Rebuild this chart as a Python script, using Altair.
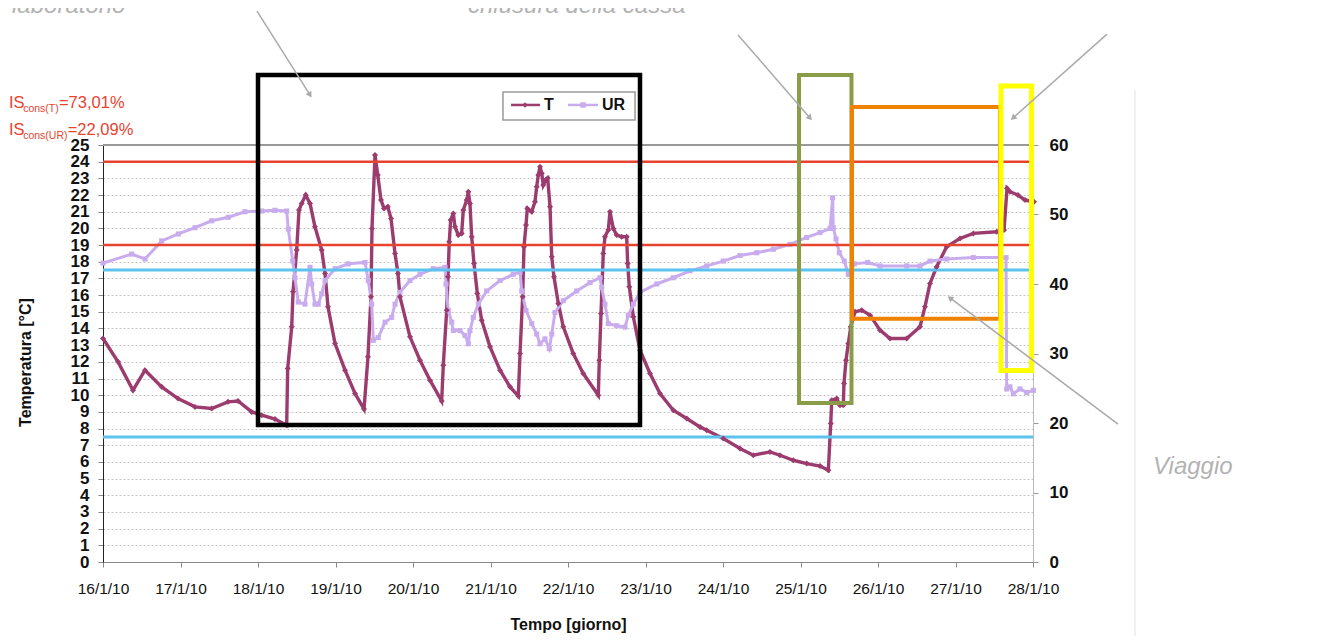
import math
import altair as alt
import pandas as pd

# ---------------- data (day offset from 16/1/10) ----------------
t_day = [0.000, 0.194, 0.387, 0.542, 0.757, 0.968, 1.187, 1.403, 1.613, 1.742,
         1.919, 2.048, 2.219, 2.370, 2.383, 2.435, 2.452, 2.499, 2.529, 2.564,
         2.615, 2.671, 2.735, 2.822, 2.865, 2.903, 2.994, 3.123, 3.252, 3.368,
         3.419, 3.458, 3.471, 3.510, 3.545, 3.587, 3.626, 3.674, 3.716, 3.768,
         3.806, 3.832, 3.961, 4.090, 4.219, 4.370, 4.391, 4.435, 4.452, 4.468,
         4.486, 4.520, 4.542, 4.585, 4.628, 4.649, 4.693, 4.714, 4.735, 4.757,
         4.787, 4.830, 4.886, 4.994, 5.123, 5.252, 5.359, 5.381, 5.415, 5.432,
         5.458, 5.475, 5.532, 5.574, 5.596, 5.617, 5.639, 5.661, 5.681, 5.712,
         5.738, 5.768, 5.790, 5.819, 5.875, 5.939, 6.068, 6.197, 6.391, 6.404,
         6.426, 6.455, 6.477, 6.520, 6.542, 6.584, 6.628, 6.693, 6.757, 6.770,
         6.791, 6.843, 6.929, 7.058, 7.187, 7.359, 7.532, 7.703, 7.790, 8.004,
         8.219, 8.391, 8.606, 8.735, 8.907, 9.080, 9.252, 9.359, 9.390, 9.403,
         9.467, 9.510, 9.552, 9.561, 9.587, 9.617, 9.648, 9.703, 9.790, 9.897,
         10.026, 10.155, 10.370, 10.542, 10.606, 10.671, 10.757, 10.886, 11.058, 11.230,
         11.532, 11.626, 11.665, 11.703, 11.806, 11.897, 12.013]
t_val = [13.4, 12.0, 10.3, 11.5, 10.5, 9.8, 9.3, 9.2, 9.6, 9.65,
         9.0, 8.8, 8.57, 8.2, 11.6, 14.1, 16.2, 18.7, 21.1, 21.5,
         22.0, 21.5, 20.1, 18.7, 17.3, 15.3, 13.1, 11.5, 10.1, 9.17,
         12.3, 15.9, 20.0, 24.4, 23.2, 21.7, 21.2, 21.3, 20.6, 18.5,
         17.3, 15.9, 13.5, 12.1, 10.9, 9.65, 11.8, 15.1, 17.1, 19.2,
         20.5, 20.9, 20.1, 19.6, 19.7, 21.1, 21.7, 22.2, 21.5, 19.5,
         17.9, 16.1, 14.5, 12.9, 11.5, 10.5, 9.95, 12.5, 15.9, 18.9,
         20.2, 21.2, 21.0, 21.6, 22.5, 23.2, 23.7, 23.3, 22.6, 22.9,
         23.0, 21.3, 18.3, 17.1, 15.5, 14.1, 12.5, 11.3, 10.0, 12.1,
         14.9, 18.5, 19.5, 19.9, 21.0, 20.0, 19.6, 19.5, 19.5, 17.9,
         16.5, 14.7, 12.7, 11.3, 10.1, 9.1, 8.6, 8.1, 7.9, 7.4,
         6.8, 6.4, 6.6, 6.4, 6.1, 5.9, 5.75, 5.5, 8.3, 9.7,
         9.8, 9.4, 9.4, 10.7, 12.1, 13.1, 14.1, 15.0, 15.1, 14.8,
         13.9, 13.4, 13.4, 14.1, 15.3, 16.7, 17.7, 18.9, 19.4, 19.7,
         19.8, 19.9, 22.4, 22.2, 22.0, 21.7, 21.6]

ur_day = [0.000, 0.370, 0.542, 0.757, 0.972, 1.187, 1.403, 1.617, 1.832, 2.048,
          2.219, 2.370, 2.391, 2.448, 2.477, 2.520, 2.606, 2.671, 2.693, 2.735,
          2.778, 2.822, 2.865, 2.994, 3.165, 3.381, 3.423, 3.467, 3.488, 3.552,
          3.639, 3.725, 3.768, 3.832, 3.961, 4.090, 4.262, 4.413, 4.426, 4.455,
          4.499, 4.520, 4.606, 4.671, 4.714, 4.735, 4.778, 4.843, 4.951, 5.123,
          5.294, 5.381, 5.403, 5.458, 5.532, 5.596, 5.639, 5.703, 5.759, 5.790,
          5.832, 5.939, 6.112, 6.284, 6.413, 6.435, 6.477, 6.520, 6.628, 6.735,
          6.778, 6.843, 6.929, 7.145, 7.359, 7.574, 7.790, 8.004, 8.219, 8.435,
          8.650, 8.865, 9.080, 9.252, 9.381, 9.415, 9.423, 9.458, 9.501, 9.565,
          9.617, 9.694, 9.867, 10.026, 10.370, 10.542, 10.671, 10.886, 11.230, 11.652,
          11.661, 11.703, 11.746, 11.832, 11.919, 12.005]
ur_val = [43.0, 44.3, 43.6, 46.2, 47.2, 48.1, 49.1, 49.6, 50.4, 50.5,
          50.6, 50.5, 47.9, 43.3, 40.9, 37.4, 37.1, 42.4, 40.0, 37.1,
          37.1, 38.6, 40.5, 42.2, 42.9, 43.1, 40.5, 37.1, 31.9, 32.3,
          34.5, 35.2, 37.1, 38.8, 40.5, 41.4, 42.2, 42.4, 40.0, 36.2,
          34.5, 33.3, 33.3, 32.6, 31.4, 33.3, 35.2, 37.1, 39.0, 40.5,
          41.4, 41.7, 39.0, 36.2, 34.3, 32.8, 31.4, 32.1, 30.7, 32.8,
          35.9, 37.6, 39.0, 40.2, 40.9, 39.5, 37.1, 34.3, 34.0, 33.8,
          35.5, 37.1, 38.8, 40.0, 40.9, 41.9, 42.6, 43.3, 44.1, 44.5,
          45.0, 45.7, 46.7, 47.4, 48.0, 52.4, 48.1, 46.5, 44.5, 43.3,
          41.4, 42.9, 43.1, 42.6, 42.6, 42.6, 43.3, 43.6, 43.8, 43.8,
          24.9, 25.2, 24.2, 24.9, 24.4, 24.7]

START = "2010-01-16"
days = list(range(13))            # tick days (16/1/10 ... 28/1/10)
t_ticks = list(range(26))
ur_ticks = [0, 10, 20, 30, 40, 50, 60]
t_limits = [19, 24]       # red lines (°C)
ur_limits = [18, 42]      # blue lines (UR %)
series_names = ["T", "UR"]
is_texts = [("cons(T)", "=73,01%"), ("cons(UR)", "=22,09%")]
notes = ["laboratorio", "chiusura della cassa", "Viaggio"]

# ---------------- style ----------------
T_COLOR = "#9c3c6e"
UR_COLOR = "#c9acee"
RED = "#e8432f"
BLUE = "#5cc3ee"
GREY = "#aaaaaa"
FONT = "Liberation Sans, Arial, sans-serif"
PX_DAY = 930 / 12
PX_DEG = 417 / 25

t0 = pd.Timestamp(START)


def to_time(d):
    return [t0 + pd.to_timedelta(v, unit="D") for v in d]


def dt(d):
    ts = t0 + pd.to_timedelta(d, unit="D")
    return alt.DateTime(year=ts.year, month=ts.month, date=ts.day)


XS = alt.Scale(domain=[dt(days[0]), dt(days[-1])], nice=False)
TS = alt.Scale(domain=[t_ticks[0], t_ticks[-1]], nice=False, zero=True)
US = alt.Scale(domain=[ur_ticks[0], ur_ticks[-1]], nice=False, zero=True)

x_axis = alt.Axis(values=[dt(d) for d in days], format="%-d/%-m/%y", grid=False,
                  domainColor="#888", tickColor="#888", tickSize=5, labelFontSize=15.5,
                  labelFont="Liberation Sans Narrow, Liberation Sans, Arial",
                  labelColor="#111", labelPadding=14, labelOverlap=False, labelFlush=False,
                  title="Tempo [giorno]", titleFontSize=16, titleFontWeight="bold",
                  titleFont=FONT, titleColor="#111", titlePadding=20)
t_axis = alt.Axis(values=t_ticks, orient="left", grid=True, gridDash=[2, 2],
                  gridColor="#c4c4c4", gridWidth=1, domainColor="#222", tickColor="#888",
                  tickSize=5, labelFontSize=17, labelFontWeight="bold", labelFont=FONT,
                  labelColor="#111", labelPadding=9, labelOverlap=False,
                  title="Temperatura [°C]", titleFontSize=16, titleFontWeight="bold",
                  titleFont=FONT, titleColor="#111", titleX=-78, titleY=217,
                  titleAngle=270, titleAlign="center", titleBaseline="middle")
ur_axis = alt.Axis(values=ur_ticks, orient="right", grid=False, domainColor="#bbb",
                   tickColor="#999", tickSize=5, labelFontSize=17, labelFontWeight="bold",
                   labelFont=FONT, labelColor="#111", labelPadding=11, title="")


def X(f):
    # every layer carries the same (shared) x axis definition
    return alt.X(f, type="temporal", scale=XS, axis=x_axis)


def Y(f):
    return alt.Y(f, type="quantitative", scale=TS, axis=None)


def U(f):
    return alt.Y(f, type="quantitative", scale=US, axis=None)


# ---------------- series ----------------
ur_df = pd.DataFrame({"d": to_time(ur_day), "v": ur_val})
t_df = pd.DataFrame({"d": to_time(t_day), "v": t_val})

ur_line = alt.Chart(ur_df).mark_line(color=UR_COLOR, strokeWidth=3).encode(
    x=X("d"), y=alt.Y("v:Q", scale=US, axis=ur_axis))
ur_pts = alt.Chart(ur_df).mark_point(shape="square", filled=True, size=26, color=UR_COLOR,
                                     opacity=1).encode(x=X("d"), y=U("v"))

edge = to_time([days[0], days[-1]])
blue_df = pd.DataFrame({"v": ur_limits, "x0": edge[0], "x1": edge[1]})
blue_rules = alt.Chart(blue_df).mark_rule(color=BLUE, strokeWidth=3).encode(
    x=X("x0"), x2="x1", y=U("v"))

t_line = alt.Chart(t_df).mark_line(color=T_COLOR, strokeWidth=3.4).encode(
    x=X("d"), y=alt.Y("v:Q", scale=TS, axis=t_axis))
t_pts = alt.Chart(t_df).mark_point(shape="diamond", filled=True, size=36, color=T_COLOR,
                                   opacity=1).encode(x=X("d"), y=Y("v"))

red_df = pd.DataFrame({"v": t_limits, "x0": edge[0], "x1": edge[1]})
red_rules = alt.Chart(red_df).mark_rule(color=RED, strokeWidth=2.5).encode(
    x=X("x0"), x2="x1", y=Y("v"))

top_df = pd.DataFrame({"v": [t_ticks[-1]], "x0": [edge[0]], "x1": [edge[1]]})
top_rule = alt.Chart(top_df).mark_rule(color="#999", strokeWidth=2).encode(
    x=X("x0"), x2="x1", y=Y("v"))

# ---------------- annotations (in data units: day offset, °C) ----------------
boxes = [
    (2.000, 6.929, 8.21, 29.20, "#000000", 4.5),
    (8.981, 9.658, 9.53, 29.20, "#8a9c47", 4),
    (9.665, 11.574, 14.59, 27.28, "#ef8200", 4),
    (11.587, 11.981, 11.48, 28.54, "#ffff00", 5),
]
box_layers = []
for x0, x1, y0, y1, col, w in boxes:
    bdf = pd.DataFrame({"x0": to_time([x0]), "x1": to_time([x1]), "y0": [y0], "y1": [y1]})
    box_layers.append(alt.Chart(bdf).mark_rect(fill="transparent", stroke=col, strokeWidth=w).encode(
        x=X("x0"), x2="x1", y=Y("y0"), y2="y1"))

arrows = [
    (1.987, 33.03, 2.671, 28.00),
    (8.194, 31.59, 9.123, 26.62),
    (12.955, 31.65, 11.742, 26.62),
    (13.097, 8.27, 10.929, 15.83),
]
arr_df = pd.DataFrame({
    "xa": to_time([a[0] for a in arrows]), "ya": [a[1] for a in arrows],
    "xb": to_time([a[2] for a in arrows]), "yb": [a[3] for a in arrows],
    "ang": [(math.degrees(math.atan2((xb - xa) * PX_DAY, (yb - ya) * PX_DEG)) + 360) % 360
            for xa, ya, xb, yb in arrows],
})
arrow_lines = alt.Chart(arr_df).mark_rule(color=GREY, strokeWidth=1.5).encode(
    x=X("xa"), y=Y("ya"), x2="xb", y2="yb")
arrow_heads = alt.Chart(arr_df).mark_point(shape="triangle-up", filled=True, size=45,
                                           color=GREY, opacity=1).encode(
    x=X("xb"), y=Y("yb"), angle=alt.Angle("ang:Q", scale=None))

note_df = pd.DataFrame({"t": notes, "x": to_time([-1.174, 4.71, 13.548]), "y": [32.90, 32.90, 5.28]})
note_text = alt.Chart(note_df).mark_text(align="left", baseline="alphabetic", font=FONT,
                                         fontSize=24, fontStyle="italic", color="#b3b3b3").encode(
    x=X("x"), y=Y("y"), text="t:N")

is_main = pd.DataFrame({"t": ["IS", is_texts[0][1], "IS", is_texts[1][1]],
                        "x": to_time([-1.213, -0.568, -1.213, -0.455]),
                        "y": [27.22, 27.22, 25.60, 25.60]})
is_sub = pd.DataFrame({"t": [is_texts[0][0], is_texts[1][0]],
                       "x": to_time([-1.030, -1.030]), "y": [26.98, 25.36]})
is_main_text = alt.Chart(is_main).mark_text(align="left", baseline="alphabetic", font=FONT,
                                            fontSize=16.5, color=RED).encode(
    x=X("x"), y=Y("y"), text="t:N")
is_sub_text = alt.Chart(is_sub).mark_text(align="left", baseline="alphabetic", font=FONT,
                                          fontSize=10.5, color=RED).encode(
    x=X("x"), y=Y("y"), text="t:N")

# legend
leg_box_df = pd.DataFrame({"x0": to_time([5.161]), "x1": to_time([6.865]), "y0": [26.50], "y1": [28.18]})
leg_box = alt.Chart(leg_box_df).mark_rect(fill="white", stroke="#999", strokeWidth=1.5).encode(
    x=X("x0"), x2="x1", y=Y("y0"), y2="y1")
leg_df = pd.DataFrame({"name": series_names, "xa": to_time([5.265, 6.000]),
                       "xb": to_time([5.639, 6.387]), "xm": to_time([5.445, 6.194]),
                       "xt": to_time([5.690, 6.439]), "y": [27.40, 27.40],
                       "col": [T_COLOR, UR_COLOR], "shape": ["diamond", "square"]})
leg_lines = alt.Chart(leg_df).mark_rule(strokeWidth=2.5).encode(
    x=X("xa"), x2="xb", y=Y("y"), color=alt.Color("col:N", scale=None))
leg_pts = alt.Chart(leg_df).mark_point(filled=True, size=30, opacity=1).encode(
    x=X("xm"), y=Y("y"), color=alt.Color("col:N", scale=None),
    shape=alt.Shape("shape:N", scale=None))
leg_text = alt.Chart(leg_df).mark_text(align="left", baseline="middle", font=FONT,
                                       fontSize=16, fontWeight="bold", color="#111").encode(
    x=X("xt"), y=Y("y"), text="name:N")

border_df = pd.DataFrame({"x": to_time([13.316]), "y0": [28.3], "y1": [-6.0]})
border = alt.Chart(border_df).mark_rule(color="#e2e2e2", strokeWidth=1).encode(
    x=X("x"), y=Y("y0"), y2="y1")

chart = alt.layer(
    t_line, ur_line, top_rule, ur_pts, blue_rules, t_pts, red_rules, border,
    *box_layers, arrow_lines, arrow_heads, note_text, is_main_text, is_sub_text,
    leg_box, leg_lines, leg_pts, leg_text,
).resolve_scale(y="independent").properties(
    width=930, height=417,
    autosize=alt.AutoSizeParams(type="none"),
    padding={"left": 95, "top": 137, "right": 296, "bottom": 74},
    background="white",
).configure_view(strokeWidth=0)

chart.save("out.html", embed_options={"renderer": "svg", "actions": False})
